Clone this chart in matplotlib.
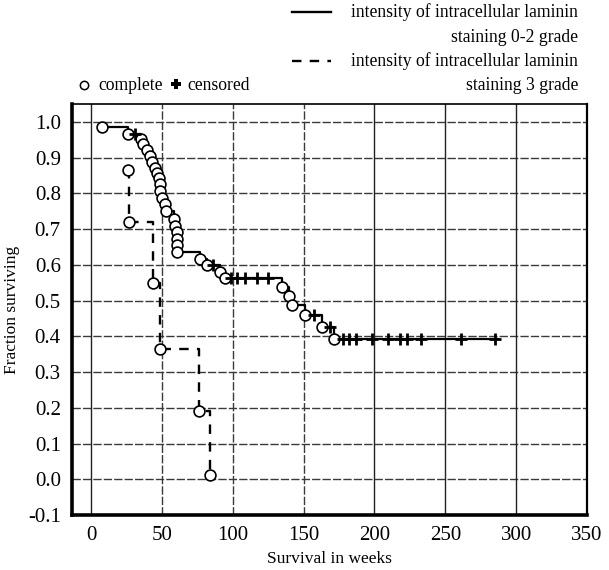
import matplotlib
matplotlib.use("Agg")
import matplotlib.pyplot as plt
from matplotlib.lines import Line2D

plt.rcParams['font.family'] = ['Liberation Serif', 'DejaVu Serif']

# ---- data ----
# group: intensity of intracellular laminin staining 0-2 grade
g02_event_t = [8, 26, 35, 37, 39.5, 41.5, 43, 45, 46.3, 48, 48.6, 48.8, 49.8, 52, 53,
               58.5, 59, 60.4, 61, 61, 61, 77, 81.5, 91, 94.5, 134.5, 139.5, 141.5,
               151, 163, 171.5]
g02_event_s = [0.985, 0.966, 0.952, 0.938, 0.922, 0.905, 0.888, 0.872, 0.858, 0.843,
               0.825, 0.806, 0.787, 0.769, 0.750, 0.727, 0.710, 0.692, 0.673, 0.655,
               0.636, 0.617, 0.600, 0.581, 0.562, 0.537, 0.513, 0.487, 0.460, 0.425,
               0.393]
g02_cens_t = [31, 86, 99, 103, 109, 117, 125, 157, 168.5, 178, 182, 187, 198.5, 209.5,
              218, 223, 233, 261, 285]
g02_cens_s = [0.966, 0.600, 0.562, 0.562, 0.562, 0.562, 0.562, 0.460, 0.425, 0.393,
              0.393, 0.393, 0.393, 0.393, 0.393, 0.393, 0.393, 0.393, 0.393]
g02_end_t = 287

# group: intensity of intracellular laminin staining 3 grade
g3_event_t = [26, 26.5, 43.5, 49, 76, 84]
g3_event_s = [0.864, 0.720, 0.548, 0.365, 0.190, 0.013]

x_ticks = [0, 50, 100, 150, 200, 250, 300, 350]
y_ticks = [-0.1, 0.0, 0.1, 0.2, 0.3, 0.4, 0.5, 0.6, 0.7, 0.8, 0.9, 1.0]

fig = plt.figure(figsize=(6.09, 5.70), dpi=100)
ax = fig.add_axes([0.118, 0.0965, 0.846, 0.721])

# grid lines
for yv in y_ticks[1:]:
    ax.axhline(yv, color='#3a3a3a', lw=1.0, ls=(0, (6, 1.5)), zorder=1)
for xv in x_ticks[:-1]:
    if xv in (50, 100, 150):
        ax.axvline(xv, color='#3a3a3a', lw=1.0, ls=(0, (6, 1.5)), zorder=1)
    else:
        ax.axvline(xv, color='#222222', lw=1.0, zorder=1)

# solid curve
xs = list(g02_event_t) + [g02_end_t]
ys = list(g02_event_s) + [g02_event_s[-1]]
ax.plot(xs, ys, drawstyle='steps-post', color='black', lw=1.6, zorder=3)
ax.plot(g02_event_t, g02_event_s, 'o', mfc='white', mec='black', ms=7.8, mew=1.2, zorder=4)
ax.plot(g02_cens_t, g02_cens_s, '+', color='black', ms=9, mew=2.0, zorder=4)

# dashed curve
ax.plot(g3_event_t, g3_event_s, drawstyle='steps-post', color='black', lw=1.7,
        ls=(0, (4, 3.5)), zorder=3)
ax.plot(g3_event_t, g3_event_s, 'o', mfc='white', mec='black', ms=7.8, mew=1.2, zorder=4)

ax.set_xlim(-13.5, 350)
ax.set_ylim(-0.1, 1.05)
ax.set_xticks(x_ticks)
ax.set_yticks(y_ticks)
ax.set_yticklabels([f"{v:.1f}" for v in y_ticks])
ax.tick_params(length=0, labelsize=15, pad=8)
ax.spines['left'].set_linewidth(2.6)
ax.spines['bottom'].set_linewidth(2.6)
ax.spines['top'].set_linewidth(1.2)
ax.spines['right'].set_linewidth(1.6)

ax.set_xlabel("Survival in weeks", fontsize=12.5, labelpad=4)
ax.set_ylabel("Fraction surviving", fontsize=12.5, labelpad=6)

# legend (outside, top)
fs = 12.7
dash = (0, (4, 3.5))
fig.add_artist(Line2D([292 / 609, 331 / 609], [1 - 12 / 570, 1 - 12 / 570], color='black', lw=1.7))
fig.text(578 / 609, 1 - 12 / 570, "intensity of intracellular laminin", ha='right', va='center', fontsize=fs)
fig.text(578 / 609, 1 - 38 / 570, "staining 0-2 grade", ha='right', va='center', fontsize=fs)
fig.add_artist(Line2D([292 / 609, 331 / 609], [1 - 61 / 570, 1 - 61 / 570], color='black', lw=1.7, ls=dash))
fig.text(578 / 609, 1 - 61 / 570, "intensity of intracellular laminin", ha='right', va='center', fontsize=fs)
fig.text(578 / 609, 1 - 85 / 570, "staining 3 grade", ha='right', va='center', fontsize=fs)

fig.add_artist(Line2D([84 / 609], [1 - 85 / 570], marker='o', mfc='white', mec='black', ms=6, mew=1.1))
fig.text(98 / 609, 1 - 85 / 570, "complete", ha='left', va='center', fontsize=fs)
fig.add_artist(Line2D([176 / 609], [1 - 84 / 570], marker='P', color='black', ms=7, mew=0))
fig.text(187 / 609, 1 - 85 / 570, "censored", ha='left', va='center', fontsize=fs)

fig.savefig("out.png", dpi=100)
